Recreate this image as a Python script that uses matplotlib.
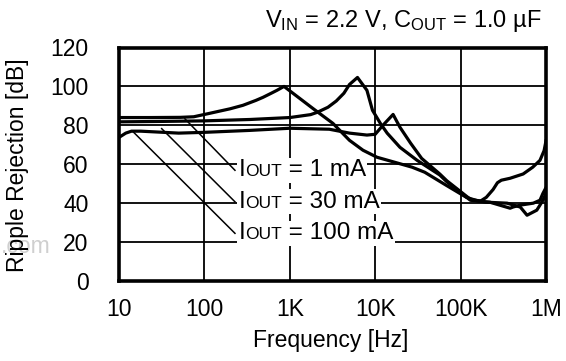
import matplotlib
matplotlib.use("Agg")
import matplotlib.pyplot as plt
from matplotlib.ticker import FixedLocator, NullLocator
from matplotlib.offsetbox import TextArea, HPacker, AnnotationBbox

plt.rcParams['font.family'] = ['Liberation Sans', 'DejaVu Sans']
plt.rcParams['mathtext.fontset'] = 'custom'
plt.rcParams['mathtext.rm'] = 'Liberation Sans'
plt.rcParams['mathtext.it'] = 'Liberation Sans:italic'
plt.rcParams['mathtext.bf'] = 'Liberation Sans:bold'

# ---- data ----
freq_a = [10, 23, 52, 75, 116, 200, 283, 400, 486, 600, 708, 855,
          1860, 3200, 5000, 7200, 10500, 27000, 38000, 69000, 117000, 150000,
          170000, 200000, 240000, 270000, 300000, 380000, 540000, 700000,
          850000, 950000, 1000000]
db_a = [84, 84, 84.1, 84.4, 86.2, 88.5, 90.3, 92.8, 94.4, 96.4, 98, 100,
        88.7, 81, 72.3, 67.2, 63.6, 58.5, 55.9, 49, 43, 41.5,
        41, 43, 47, 50.5, 51.8, 52.8, 55, 58.5,
        62, 67, 72]

freq_b = [10, 30, 100, 340, 1000, 1750, 2100, 2800, 3500, 4300, 5000, 6200,
          8000, 9300, 11500, 13800, 19500, 31000, 57000, 69000, 130000,
          220000, 380000, 410000, 500000, 710000, 850000, 920000, 1000000]
db_b = [81.8, 82, 82.3, 83, 84, 85.5, 86.7, 89.3, 92.5, 96.5, 101, 104.6,
        98, 87.7, 81, 76, 68.7, 62, 54.5, 51, 41.5,
        40.5, 37.4, 38, 39, 40, 41.5, 45, 48]

freq_c = [10, 12, 14, 18, 30, 50, 100, 340, 1000, 2900, 5000, 8000, 10000,
          12300, 16200, 19500, 26000, 35000, 57000, 69000, 130000, 200000,
          350000, 500000, 600000, 780000, 850000, 920000, 1000000]
db_c = [73.8, 76, 77, 77, 76.5, 76, 76.4, 77.4, 78.5, 78, 76, 75, 75.4,
        80, 85.6, 79, 70.8, 63, 55, 51.5, 42, 40.5,
        40, 38, 33.8, 36.4, 39, 41.5, 45]

label_values = ['1 mA', '30 mA', '100 mA']
# leader lines: start (freq, dB) on curve -> label anchor (freq, dB)
leader_start_f = [59, 31.6, 14.7]
leader_start_db = [83.4, 78.3, 76.6]
leader_end_f = [228, 228, 228]
leader_end_db = [56.9, 40.7, 24.5]

xticks = [10, 100, 1e3, 1e4, 1e5, 1e6]
xticklabels = ['10', '100', '1K', '10K', '100K', '1M']
yticks = [0, 20, 40, 60, 80, 100, 120]

FS = 16.5

# ---- figure ----
fig = plt.figure(figsize=(5.66, 3.61), dpi=100)
ax = fig.add_axes([119/566, 1-281/361, 427/566, 233.5/361])

ax.set_xscale('log')
ax.set_xlim(10, 1e6)
ax.set_ylim(0, 120)
ax.xaxis.set_major_locator(FixedLocator(xticks))
ax.xaxis.set_minor_locator(NullLocator())
ax.set_xticklabels(xticklabels)
ax.set_yticks(yticks)
ax.tick_params(length=0, labelsize=FS, colors='black')
ax.tick_params(axis='y', pad=22)
ax.tick_params(axis='x', pad=12)
ax.grid(True, color='black', linewidth=1.3)
for s in ax.spines.values():
    s.set_linewidth(2.6)
    s.set_zorder(5)

for f, d in ((freq_a, db_a), (freq_b, db_b), (freq_c, db_c)):
    ax.plot(f, d, color='black', linewidth=2.3, solid_joinstyle='round',
            zorder=4)

for i in range(3):
    ax.plot([leader_start_f[i], leader_end_f[i]],
            [leader_start_db[i], leader_end_db[i]],
            color='black', linewidth=1.1, zorder=3)
    pack = HPacker(children=[
        TextArea('I', textprops=dict(size=17.5, family=['Liberation Sans'])),
        TextArea('OUT', textprops=dict(size=12.5, family=['Liberation Sans'])),
        TextArea(' = ' + label_values[i],
                 textprops=dict(size=17.5, family=['Liberation Sans'])),
    ], align='baseline', pad=0, sep=0)
    ab = AnnotationBbox(pack, (leader_end_f[i], leader_end_db[i]),
                        xycoords='data', xybox=(2.5, 0),
                        boxcoords='offset points', box_alignment=(0, 0.5),
                        frameon=True, pad=0.1,
                        bboxprops=dict(facecolor='white', edgecolor='none'))
    ab.set_zorder(6)
    ax.add_artist(ab)

fig.text(331/566, 1-340.5/361, 'Frequency [Hz]', fontsize=FS,
         ha='center', va='center')
fig.text(18/566, 1-165/361, 'Ripple Rejection [dB]', fontsize=FS,
         rotation=90, ha='center', va='center')

fig.text(1/566, 1-253/361, '.com', fontsize=FS, color='#cfcfcf',
         va='baseline', ha='left', zorder=0)
fig.text(542/566, 1-21/361,
         r'V$_{\mathregular{IN}}$ = 2.2 V, C$_{\mathregular{OUT}}$ = 1.0 µF',
         fontsize=17, ha='right', va='center')

fig.savefig('out.png', dpi=100, facecolor='white')
